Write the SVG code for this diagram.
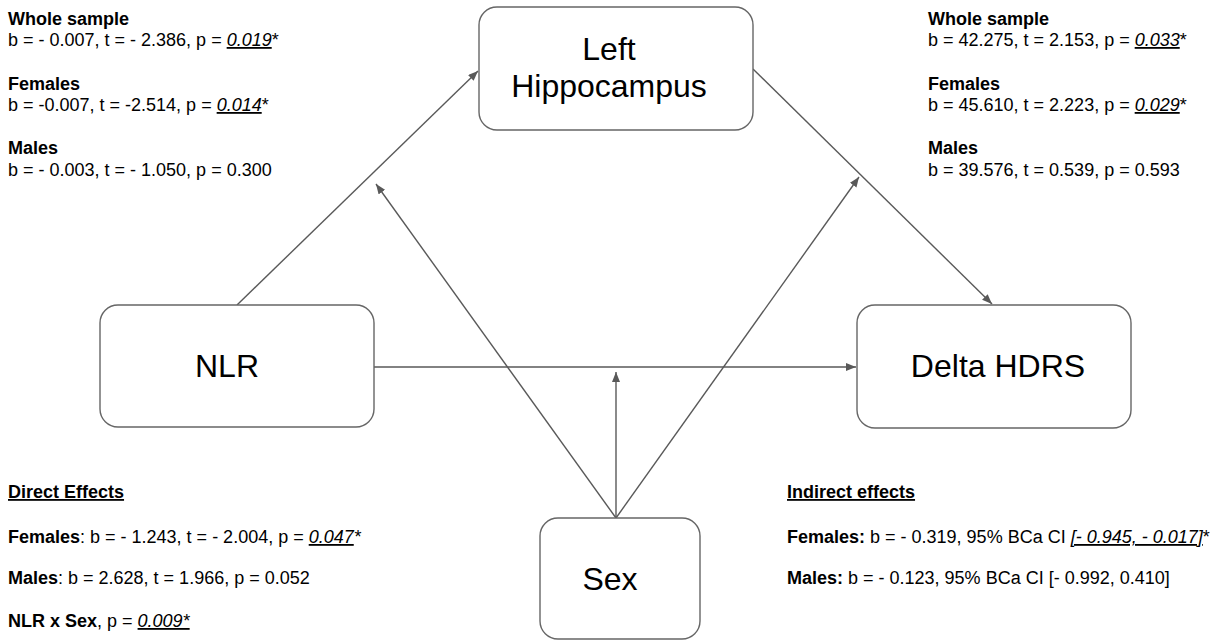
<svg xmlns="http://www.w3.org/2000/svg" width="1217" height="642" viewBox="0 0 1217 642">
<style>
.box{fill:#fff;stroke:#666;stroke-width:1.4}
.lbl{font-family:"Liberation Sans",Arial,sans-serif;font-size:32px;fill:#000;text-anchor:middle}
.t{font-family:"Liberation Sans",Arial,sans-serif;font-size:18px;fill:#000}
.b{font-weight:bold}
.u{text-decoration:underline}
.i{font-style:italic}
.c{stroke:#595959;stroke-width:1.4;fill:none;marker-end:url(#ah)}
</style>
<defs>
<marker id="ah" markerUnits="userSpaceOnUse" markerWidth="12" markerHeight="10" refX="10" refY="4" orient="auto">
<path d="M0,0 L10,4 L0,8 Z" fill="#595959"/>
</marker>
</defs>
<g id="connectors">
<line class="c" x1="237" y1="305" x2="478" y2="71"/>
<line class="c" x1="753" y1="69" x2="992" y2="304"/>
<line class="c" x1="374" y1="367" x2="856" y2="367"/>
<line class="c" x1="616" y1="518" x2="616" y2="372"/>
<line class="c" x1="616" y1="518" x2="376" y2="184"/>
<line class="c" x1="616" y1="518" x2="859" y2="177"/>
</g>
<g id="node-left-hippocampus">
<rect class="box" x="479" y="7" width="274" height="123" rx="18"/>
<text class="lbl" x="609" y="60">Left</text>
<text class="lbl" x="609" y="97">Hippocampus</text>
</g>
<g id="node-nlr">
<rect class="box" x="100" y="305" width="274" height="122" rx="18"/>
<text class="lbl" x="227" y="377">NLR</text>
</g>
<g id="node-delta-hdrs">
<rect class="box" x="857" y="305" width="274" height="123" rx="18"/>
<text class="lbl" x="998" y="377">Delta HDRS</text>
</g>
<g id="node-sex">
<rect class="box" x="540" y="518" width="160" height="121" rx="18"/>
<text class="lbl" x="610" y="590">Sex</text>
</g>
<g id="stats-a-path">
<text class="t b" x="8" y="25">Whole sample</text>
<text class="t" x="8" y="46">b = - 0.007, t = - 2.386, p = <tspan class="i u">0.019</tspan>*</text>
<text class="t b" x="8" y="90">Females</text>
<text class="t" x="8" y="111">b = -0.007, t = -2.514, p = <tspan class="i u">0.014</tspan>*</text>
<text class="t b" x="8" y="154">Males</text>
<text class="t" x="8" y="176">b = - 0.003, t = - 1.050, p = 0.300</text>
</g>
<g id="stats-b-path">
<text class="t b" x="928" y="25">Whole sample</text>
<text class="t" x="928" y="46">b = 42.275, t = 2.153, p = <tspan class="i u">0.033</tspan>*</text>
<text class="t b" x="928" y="90">Females</text>
<text class="t" x="928" y="111">b = 45.610, t = 2.223, p = <tspan class="i u">0.029</tspan>*</text>
<text class="t b" x="928" y="154">Males</text>
<text class="t" x="928" y="176">b = 39.576, t = 0.539, p = 0.593</text>
</g>
<g id="direct-effects">
<text class="t b u" x="8" y="498">Direct Effects</text>
<text class="t" x="8" y="543"><tspan class="b">Females</tspan>: b = - 1.243, t = - 2.004, p = <tspan class="i u">0.047</tspan><tspan class="i">*</tspan></text>
<text class="t" x="8" y="584"><tspan class="b">Males</tspan>: b = 2.628, t = 1.966, p = 0.052</text>
<text class="t" x="8" y="627"><tspan class="b">NLR x Sex</tspan>, p = <tspan class="i u">0.009*</tspan></text>
</g>
<g id="indirect-effects">
<text class="t b u" x="787" y="498">Indirect effects</text>
<text class="t" x="787" y="543"><tspan class="b">Females:</tspan> b = - 0.319, 95% BCa CI <tspan class="i u">[- 0.945, - 0.017]</tspan>*</text>
<text class="t" x="787" y="584"><tspan class="b">Males:</tspan> b = - 0.123, 95% BCa CI [- 0.992, 0.410]</text>
</g>
</svg>
